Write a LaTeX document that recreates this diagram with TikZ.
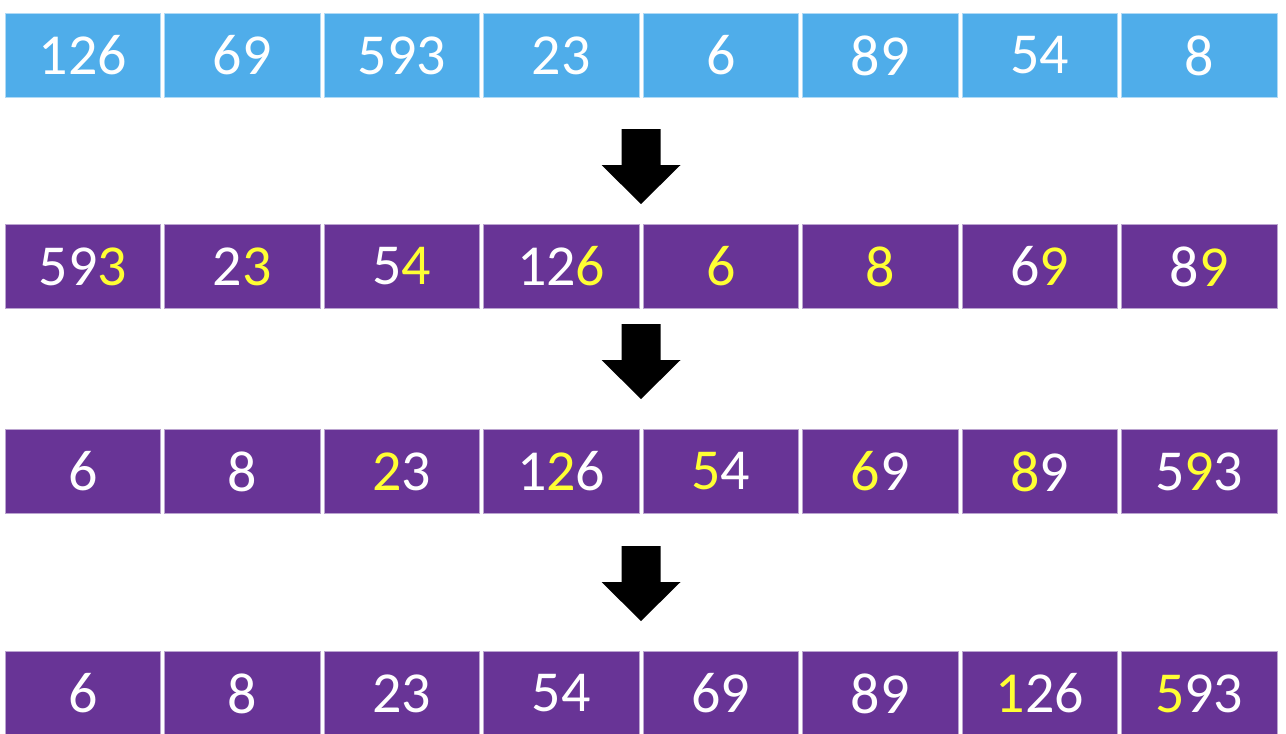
\documentclass[tikz,border=0pt]{standalone}
\usepackage{fontspec}
\setmainfont{Carlito}
\usetikzlibrary{positioning}

\definecolor{cellblue}{RGB}{79,173,234}
\definecolor{cellpurple}{RGB}{104,52,150}
\definecolor{digityellow}{RGB}{255,255,51}
\newcommand{\yd}[1]{\textcolor{digityellow}{#1}}

\begin{document}
\begin{tikzpicture}[x=1pt, y=-1pt, node distance=3pt,
    cell/.style={rectangle, line width=1pt, inner sep=0pt, text=white,
                 minimum width=155.5pt, minimum height=84pt,
                 font=\fontsize{58}{60}\selectfont},
    blue cell/.style={cell, fill=cellblue, draw=cellblue!45!white},
    purple cell/.style={cell, fill=cellpurple, draw=cellpurple!45!white}]
    \useasboundingbox (0,0) rectangle (1286,734);

    % unsorted input
    \node[blue cell] (a1) at (82.75,55.5) {126};
    \node[blue cell] (a2) [right=of a1] {69};
    \node[blue cell] (a3) [right=of a2] {593};
    \node[blue cell] (a4) [right=of a3] {23};
    \node[blue cell] (a5) [right=of a4] {6};
    \node[blue cell] (a6) [right=of a5] {89};
    \node[blue cell] (a7) [right=of a6] {54};
    \node[blue cell] (a8) [right=of a7] {8};

    % after ones digit
    \node[purple cell] (b1) [below=126pt of a1] {59\yd{3}};
    \node[purple cell] (b2) [right=of b1] {2\yd{3}};
    \node[purple cell] (b3) [right=of b2] {5\yd{4}};
    \node[purple cell] (b4) [right=of b3] {12\yd{6}};
    \node[purple cell] (b5) [right=of b4] {\yd{6}};
    \node[purple cell] (b6) [right=of b5] {\yd{8}};
    \node[purple cell] (b7) [right=of b6] {6\yd{9}};
    \node[purple cell] (b8) [right=of b7] {8\yd{9}};

    % after tens digit
    \node[purple cell] (c1) [below=120pt of b1] {6};
    \node[purple cell] (c2) [right=of c1] {8};
    \node[purple cell] (c3) [right=of c2] {\yd{2}3};
    \node[purple cell] (c4) [right=of c3] {1\yd{2}6};
    \node[purple cell] (c5) [right=of c4] {\yd{5}4};
    \node[purple cell] (c6) [right=of c5] {\yd{6}9};
    \node[purple cell] (c7) [right=of c6] {\yd{8}9};
    \node[purple cell] (c8) [right=of c7] {5\yd{9}3};

    % after hundreds digit
    \node[purple cell] (d1) [below=137pt of c1] {6};
    \node[purple cell] (d2) [right=of d1] {8};
    \node[purple cell] (d3) [right=of d2] {23};
    \node[purple cell] (d4) [right=of d3] {54};
    \node[purple cell] (d5) [right=of d4] {69};
    \node[purple cell] (d6) [right=of d5] {89};
    \node[purple cell] (d7) [right=of d6] {\yd{1}26};
    \node[purple cell] (d8) [right=of d7] {\yd{5}93};

    % block arrows
    \coordinate (arr1) at (641,129);
    \coordinate (arr2) at (641,324);
    \coordinate (arr3) at (641,546);
    \foreach \a in {arr1,arr2,arr3}
        \fill[black] (\a) ++(-19.5,0) -- ++(39,0) -- ++(0,36) -- ++(20,0)
            -- ++(-39.5,39) -- ++(-39.5,-39) -- ++(20,0) -- cycle;
\end{tikzpicture}
\end{document}
